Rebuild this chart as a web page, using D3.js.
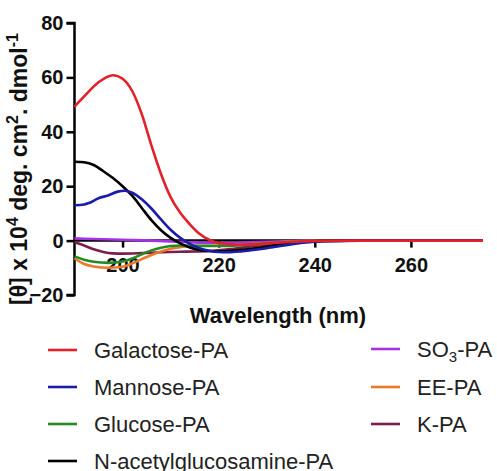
<!DOCTYPE html>
<html>
<head>
<meta charset="utf-8">
<script src="https://cdn.jsdelivr.net/npm/d3@7"></script>
<style>
  body { margin: 0; background: #fff; }
  text { font-family: "Liberation Sans", Arial, sans-serif; }
</style>
</head>
<body>
<svg width="497" height="471"></svg>
<script>
// series names + colours
var names = ["Galactose-PA", "Mannose-PA", "Glucose-PA", "N-acetylglucosamine-PA", "SO3-PA", "EE-PA", "K-PA"];
var colors = ["#e3212b", "#1c1caa", "#238b23", "#000000", "#a632e6", "#ea7a2a", "#7c1e4c"];

// [wavelength nm, theta x10^4]
var galactose = [[190,49.2],[192,53],[195,58.2],[198,60.8],[200,59.5],[202,55],[204,46.5],[206,35],[208,24.5],[210,16],[212,10.2],[214,6],[216,2.5],[218,0.3],[220,-0.9],[224,-1.5],[228,-1.3],[232,-0.8],[236,-0.4],[240,-0.1],[250,0],[275,0]];
var mannose = [[190,13],[192,13.3],[193,13.8],[195,15.6],[197,16.6],[199,18],[200.5,18.3],[202,17.6],[204,15.2],[206,11.8],[208,7.8],[210,4],[212,1],[214,-1.2],[216,-2.8],[218,-3.7],[220,-4.2],[222,-4.3],[225,-3.9],[230,-2.8],[234,-1.7],[238,-0.7],[242,-0.2],[250,0],[275,0]];
var glucose = [[190,-5.8],[192,-7],[194,-7.8],[197,-8.2],[200,-7.7],[202,-6.6],[204,-5],[206,-3.6],[208,-2.6],[210,-2],[212,-1.8],[216,-1.9],[220,-2],[224,-1.8],[228,-1.3],[232,-0.8],[236,-0.4],[240,-0.1],[250,0],[275,0]];
var nag = [[190,29],[192,28.8],[194,27.8],[196,25.5],[198,23],[200,20],[202,16.5],[204,12],[206,7.5],[208,3.8],[210,1],[212,-1],[214,-2.5],[216,-3.4],[218,-3.8],[220,-3.9],[222,-3.8],[226,-3.2],[230,-2.2],[234,-1.2],[238,-0.5],[242,-0.1],[250,0],[275,0]];
var so3 = [[190,0.8],[194,0.6],[198,0.4],[202,0.2],[206,0],[210,-0.3],[214,-0.6],[218,-0.8],[222,-0.8],[226,-0.6],[230,-0.4],[235,-0.2],[240,0],[275,0]];
var ee = [[190,-6.5],[192,-8.6],[194,-9.5],[197,-10],[200,-9.6],[202,-8.4],[204,-6.8],[206,-5.3],[208,-4],[210,-3],[212,-2.4],[215,-2],[220,-1.8],[224,-1.5],[228,-1.1],[232,-0.7],[236,-0.3],[240,-0.1],[250,0],[275,0]];
var kpa = [[190,-0.6],[192,-1.8],[194,-3.2],[196,-4.2],[198,-4.7],[200,-4.8],[204,-4.6],[208,-4.3],[212,-4.1],[215,-4],[218,-3.8],[222,-3.2],[226,-2.3],[230,-1.4],[234,-0.7],[238,-0.2],[242,0],[275,0]];

var series = [galactose, mannose, glucose, nag, so3, ee, kpa];
var xTicks = [200, 220, 240, 260];
var yTicks = [-20, 0, 20, 40, 60, 80];

var svg = d3.select("svg");
var x = d3.scaleLinear().domain([190, 275]).range([74.5, 483]);
var y = d3.scaleLinear().domain([-20, 80]).range([295, 23]);

// y axis
var yAxis = svg.append("g").attr("transform", "translate(74.5,0)")
  .call(d3.axisLeft(y).tickValues(yTicks).tickSize(8).tickPadding(3));
yAxis.select(".domain").attr("stroke-width", 2.5).attr("d", "M-8," + y(80) + "H0V" + y(-20) + "H-8");
yAxis.selectAll(".tick line").attr("stroke-width", 2.5);
yAxis.selectAll(".tick text").attr("font-size", 20).attr("font-weight", "bold")
  .attr("font-family", "Liberation Sans, Arial, sans-serif").attr("fill", "#111");

// x axis at y=0
var xAxis = svg.append("g").attr("transform", "translate(0," + y(0) + ")")
  .call(d3.axisBottom(x).tickValues(xTicks).tickSize(7).tickPadding(10));
xAxis.select(".domain").attr("stroke-width", 2.5).attr("d", "M" + x(190) + ",0H" + x(275));
xAxis.selectAll(".tick line").attr("stroke-width", 2.5);
xAxis.selectAll(".tick text").attr("font-size", 20).attr("font-weight", "bold")
  .attr("font-family", "Liberation Sans, Arial, sans-serif").attr("fill", "#111");

// curves, first series drawn last so it sits on top
var line = d3.line().x(function(d){ return x(d[0]); }).y(function(d){ return y(d[1]); }).curve(d3.curveMonotoneX);
var order = [4, 6, 5, 2, 3, 1, 0];
order.forEach(function(i){
  svg.append("path").datum(series[i])
    .attr("d", line)
    .attr("fill", "none")
    .attr("stroke", colors[i])
    .attr("stroke-width", 2.6);
});

// axis titles
svg.append("text").attr("x", 278).attr("y", 323).attr("text-anchor", "middle")
  .attr("font-size", 22).attr("font-weight", "bold").attr("fill", "#111").text("Wavelength (nm)");

var yt = svg.append("text").attr("transform", "translate(27,169) rotate(-90)")
  .attr("text-anchor", "middle").attr("font-size", 23).attr("font-weight", "bold").attr("fill", "#111");
yt.append("tspan").text("[\u03b8] x 10");
yt.append("tspan").attr("font-size", 16).attr("dy", -9).text("4");
yt.append("tspan").attr("dy", 9).text(" deg. cm");
yt.append("tspan").attr("font-size", 16).attr("dy", -9).text("2");
yt.append("tspan").attr("dy", 9).text(". dmol");
yt.append("tspan").attr("font-size", 16).attr("dy", -9).text("-1");

// legend
var legendPos = [[48,350],[48,387],[48,424],[48,461],[371,349],[371,387],[371,424]];
names.forEach(function(n, i){
  var p = legendPos[i];
  svg.append("line").attr("x1", p[0]).attr("x2", p[0] + 29).attr("y1", p[1]).attr("y2", p[1])
    .attr("stroke", colors[i]).attr("stroke-width", 2.6);
  var t = svg.append("text").attr("x", p[0] + 46).attr("y", p[1] + 8)
    .attr("font-size", 22).attr("fill", "#222");
  if (n === "SO3-PA") {
    t.append("tspan").text("SO");
    t.append("tspan").attr("font-size", 15).attr("dy", 5).text("3");
    t.append("tspan").attr("dy", -5).text("-PA");
  } else {
    t.text(n);
  }
});
</script>
</body>
</html>
